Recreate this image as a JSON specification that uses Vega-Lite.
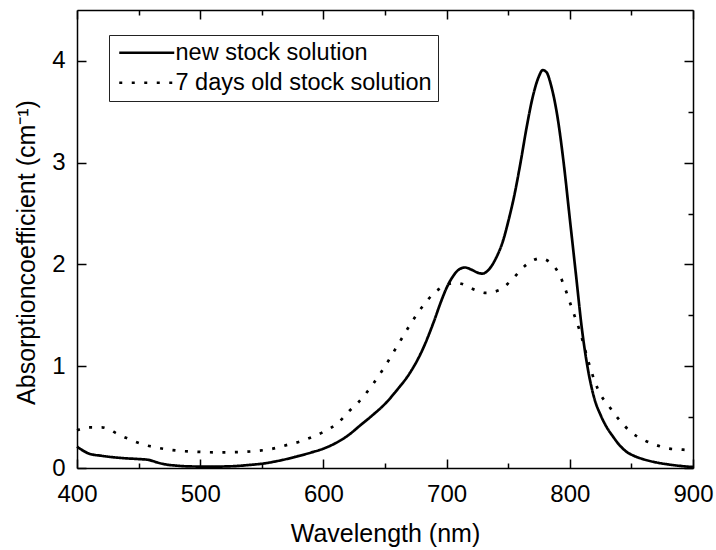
{
  "$schema": "https://vega.github.io/schema/vega-lite/v6.json",
  "autosize": "none",
  "width": 616,
  "height": 458,
  "padding": {"left": 77, "top": 10, "right": 23, "bottom": 82},
  "background": "white",
  "config": {
    "view": {"stroke": null},
    "font": "Liberation Sans",
    "axis": {"domainColor": "#000", "domainWidth": 1.5, "tickColor": "#000", "tickWidth": 1.5, "grid": false, "labelColor": "#000", "titleColor": "#000", "labelFont": "Liberation Sans", "titleFont": "Liberation Sans", "titleFontWeight": "normal"}
  },
  "datasets": {
    "spectra": [
      {"wavelength": 400, "absorption": 0.21, "series": "new stock solution"},
      {"wavelength": 405, "absorption": 0.17, "series": "new stock solution"},
      {"wavelength": 410, "absorption": 0.14, "series": "new stock solution"},
      {"wavelength": 420, "absorption": 0.12, "series": "new stock solution"},
      {"wavelength": 430, "absorption": 0.105, "series": "new stock solution"},
      {"wavelength": 440, "absorption": 0.095, "series": "new stock solution"},
      {"wavelength": 450, "absorption": 0.088, "series": "new stock solution"},
      {"wavelength": 458, "absorption": 0.08, "series": "new stock solution"},
      {"wavelength": 465, "absorption": 0.055, "series": "new stock solution"},
      {"wavelength": 472, "absorption": 0.035, "series": "new stock solution"},
      {"wavelength": 480, "absorption": 0.024, "series": "new stock solution"},
      {"wavelength": 490, "absorption": 0.016, "series": "new stock solution"},
      {"wavelength": 500, "absorption": 0.014, "series": "new stock solution"},
      {"wavelength": 510, "absorption": 0.013, "series": "new stock solution"},
      {"wavelength": 520, "absorption": 0.015, "series": "new stock solution"},
      {"wavelength": 530, "absorption": 0.02, "series": "new stock solution"},
      {"wavelength": 540, "absorption": 0.03, "series": "new stock solution"},
      {"wavelength": 550, "absorption": 0.042, "series": "new stock solution"},
      {"wavelength": 560, "absorption": 0.062, "series": "new stock solution"},
      {"wavelength": 570, "absorption": 0.088, "series": "new stock solution"},
      {"wavelength": 580, "absorption": 0.118, "series": "new stock solution"},
      {"wavelength": 590, "absorption": 0.152, "series": "new stock solution"},
      {"wavelength": 600, "absorption": 0.19, "series": "new stock solution"},
      {"wavelength": 610, "absorption": 0.245, "series": "new stock solution"},
      {"wavelength": 620, "absorption": 0.32, "series": "new stock solution"},
      {"wavelength": 630, "absorption": 0.42, "series": "new stock solution"},
      {"wavelength": 640, "absorption": 0.52, "series": "new stock solution"},
      {"wavelength": 650, "absorption": 0.63, "series": "new stock solution"},
      {"wavelength": 660, "absorption": 0.77, "series": "new stock solution"},
      {"wavelength": 670, "absorption": 0.93, "series": "new stock solution"},
      {"wavelength": 680, "absorption": 1.15, "series": "new stock solution"},
      {"wavelength": 690, "absorption": 1.45, "series": "new stock solution"},
      {"wavelength": 695, "absorption": 1.62, "series": "new stock solution"},
      {"wavelength": 700, "absorption": 1.77, "series": "new stock solution"},
      {"wavelength": 705, "absorption": 1.88, "series": "new stock solution"},
      {"wavelength": 710, "absorption": 1.95, "series": "new stock solution"},
      {"wavelength": 715, "absorption": 1.97, "series": "new stock solution"},
      {"wavelength": 720, "absorption": 1.95, "series": "new stock solution"},
      {"wavelength": 725, "absorption": 1.92, "series": "new stock solution"},
      {"wavelength": 729, "absorption": 1.91, "series": "new stock solution"},
      {"wavelength": 735, "absorption": 1.96, "series": "new stock solution"},
      {"wavelength": 740, "absorption": 2.06, "series": "new stock solution"},
      {"wavelength": 746, "absorption": 2.24, "series": "new stock solution"},
      {"wavelength": 750, "absorption": 2.42, "series": "new stock solution"},
      {"wavelength": 755, "absorption": 2.68, "series": "new stock solution"},
      {"wavelength": 760, "absorption": 3.0, "series": "new stock solution"},
      {"wavelength": 765, "absorption": 3.35, "series": "new stock solution"},
      {"wavelength": 770, "absorption": 3.65, "series": "new stock solution"},
      {"wavelength": 775, "absorption": 3.85, "series": "new stock solution"},
      {"wavelength": 778, "absorption": 3.91, "series": "new stock solution"},
      {"wavelength": 781, "absorption": 3.89, "series": "new stock solution"},
      {"wavelength": 785, "absorption": 3.75, "series": "new stock solution"},
      {"wavelength": 790, "absorption": 3.45, "series": "new stock solution"},
      {"wavelength": 795, "absorption": 3.0, "series": "new stock solution"},
      {"wavelength": 800, "absorption": 2.45, "series": "new stock solution"},
      {"wavelength": 805, "absorption": 1.9, "series": "new stock solution"},
      {"wavelength": 810, "absorption": 1.35, "series": "new stock solution"},
      {"wavelength": 815, "absorption": 0.95, "series": "new stock solution"},
      {"wavelength": 820, "absorption": 0.68, "series": "new stock solution"},
      {"wavelength": 825, "absorption": 0.52, "series": "new stock solution"},
      {"wavelength": 830, "absorption": 0.4, "series": "new stock solution"},
      {"wavelength": 835, "absorption": 0.31, "series": "new stock solution"},
      {"wavelength": 840, "absorption": 0.23, "series": "new stock solution"},
      {"wavelength": 846, "absorption": 0.16, "series": "new stock solution"},
      {"wavelength": 852, "absorption": 0.12, "series": "new stock solution"},
      {"wavelength": 860, "absorption": 0.085, "series": "new stock solution"},
      {"wavelength": 870, "absorption": 0.055, "series": "new stock solution"},
      {"wavelength": 880, "absorption": 0.035, "series": "new stock solution"},
      {"wavelength": 890, "absorption": 0.02, "series": "new stock solution"},
      {"wavelength": 900, "absorption": 0.01, "series": "new stock solution"},
      {"wavelength": 400, "absorption": 0.37, "series": "7 days old stock solution"},
      {"wavelength": 405, "absorption": 0.39, "series": "7 days old stock solution"},
      {"wavelength": 410, "absorption": 0.4, "series": "7 days old stock solution"},
      {"wavelength": 420, "absorption": 0.4, "series": "7 days old stock solution"},
      {"wavelength": 426, "absorption": 0.38, "series": "7 days old stock solution"},
      {"wavelength": 432, "absorption": 0.34, "series": "7 days old stock solution"},
      {"wavelength": 443, "absorption": 0.28, "series": "7 days old stock solution"},
      {"wavelength": 454, "absorption": 0.23, "series": "7 days old stock solution"},
      {"wavelength": 465, "absorption": 0.2, "series": "7 days old stock solution"},
      {"wavelength": 475, "absorption": 0.18, "series": "7 days old stock solution"},
      {"wavelength": 485, "absorption": 0.167, "series": "7 days old stock solution"},
      {"wavelength": 496, "absorption": 0.16, "series": "7 days old stock solution"},
      {"wavelength": 506, "absorption": 0.155, "series": "7 days old stock solution"},
      {"wavelength": 516, "absorption": 0.154, "series": "7 days old stock solution"},
      {"wavelength": 527, "absorption": 0.155, "series": "7 days old stock solution"},
      {"wavelength": 538, "absorption": 0.16, "series": "7 days old stock solution"},
      {"wavelength": 548, "absorption": 0.17, "series": "7 days old stock solution"},
      {"wavelength": 559, "absorption": 0.19, "series": "7 days old stock solution"},
      {"wavelength": 570, "absorption": 0.225, "series": "7 days old stock solution"},
      {"wavelength": 581, "absorption": 0.26, "series": "7 days old stock solution"},
      {"wavelength": 590, "absorption": 0.3, "series": "7 days old stock solution"},
      {"wavelength": 600, "absorption": 0.355, "series": "7 days old stock solution"},
      {"wavelength": 612, "absorption": 0.445, "series": "7 days old stock solution"},
      {"wavelength": 621, "absorption": 0.56, "series": "7 days old stock solution"},
      {"wavelength": 628, "absorption": 0.64, "series": "7 days old stock solution"},
      {"wavelength": 640, "absorption": 0.82, "series": "7 days old stock solution"},
      {"wavelength": 650, "absorption": 1.0, "series": "7 days old stock solution"},
      {"wavelength": 660, "absorption": 1.2, "series": "7 days old stock solution"},
      {"wavelength": 670, "absorption": 1.4, "series": "7 days old stock solution"},
      {"wavelength": 680, "absorption": 1.58, "series": "7 days old stock solution"},
      {"wavelength": 690, "absorption": 1.72, "series": "7 days old stock solution"},
      {"wavelength": 700, "absorption": 1.8, "series": "7 days old stock solution"},
      {"wavelength": 707, "absorption": 1.82, "series": "7 days old stock solution"},
      {"wavelength": 712, "absorption": 1.81, "series": "7 days old stock solution"},
      {"wavelength": 722, "absorption": 1.755, "series": "7 days old stock solution"},
      {"wavelength": 732, "absorption": 1.72, "series": "7 days old stock solution"},
      {"wavelength": 743, "absorption": 1.75, "series": "7 days old stock solution"},
      {"wavelength": 753, "absorption": 1.85, "series": "7 days old stock solution"},
      {"wavelength": 763, "absorption": 1.98, "series": "7 days old stock solution"},
      {"wavelength": 770, "absorption": 2.04, "series": "7 days old stock solution"},
      {"wavelength": 776, "absorption": 2.06, "series": "7 days old stock solution"},
      {"wavelength": 784, "absorption": 2.02, "series": "7 days old stock solution"},
      {"wavelength": 792, "absorption": 1.89, "series": "7 days old stock solution"},
      {"wavelength": 796, "absorption": 1.77, "series": "7 days old stock solution"},
      {"wavelength": 800, "absorption": 1.63, "series": "7 days old stock solution"},
      {"wavelength": 804, "absorption": 1.49, "series": "7 days old stock solution"},
      {"wavelength": 808, "absorption": 1.35, "series": "7 days old stock solution"},
      {"wavelength": 815, "absorption": 1.05, "series": "7 days old stock solution"},
      {"wavelength": 820, "absorption": 0.86, "series": "7 days old stock solution"},
      {"wavelength": 825, "absorption": 0.72, "series": "7 days old stock solution"},
      {"wavelength": 831, "absorption": 0.62, "series": "7 days old stock solution"},
      {"wavelength": 839, "absorption": 0.49, "series": "7 days old stock solution"},
      {"wavelength": 849, "absorption": 0.36, "series": "7 days old stock solution"},
      {"wavelength": 860, "absorption": 0.275, "series": "7 days old stock solution"},
      {"wavelength": 870, "absorption": 0.226, "series": "7 days old stock solution"},
      {"wavelength": 881, "absorption": 0.19, "series": "7 days old stock solution"},
      {"wavelength": 892, "absorption": 0.18, "series": "7 days old stock solution"},
      {"wavelength": 900, "absorption": 0.17, "series": "7 days old stock solution"}
    ]
  },
  "data": {"name": "spectra"},
  "layer": [
    {
      "mark": {"type": "line", "color": "#000", "strokeWidth": 2.7, "interpolate": "monotone", "strokeCap": "butt"},
      "encoding": {
        "x": {
          "field": "wavelength", "type": "quantitative",
          "scale": {"domain": [400, 900], "nice": false, "zero": false},
          "axis": {
            "orient": "bottom",
            "values": [400, 450, 500, 550, 600, 650, 700, 750, 800, 850, 900],
            "labelExpr": "datum.value % 100 === 0 ? datum.label : ''",
            "format": "d",
            "tickSize": {"condition": {"test": "datum.value % 100 === 0", "value": -9}, "value": -5},
            "labelPadding": 23,
            "labelFontSize": 24,
            "labelFlush": false,
            "labelOverlap": false,
            "title": "Wavelength (nm)",
            "titleFontSize": 25,
            "titlePadding": 11
          }
        },
        "y": {
          "field": "absorption", "type": "quantitative",
          "scale": {"domain": [0, 4.5], "nice": false},
          "axis": {
            "orient": "left",
            "values": [0, 0.5, 1, 1.5, 2, 2.5, 3, 3.5, 4],
            "labelExpr": "datum.value % 1 === 0 ? datum.label : ''",
            "format": "d",
            "tickSize": {"condition": {"test": "datum.value % 1 === 0", "value": -9}, "value": -5},
            "labelPadding": 21,
            "labelFontSize": 24,
            "labelFlush": false,
            "labelOverlap": false,
            "title": "Absorptioncoefficient (cm⁻¹)",
            "titleFontSize": 25,
            "titlePadding": 12,
            "titleY": 242
          }
        },
        "strokeDash": {
          "field": "series", "type": "nominal",
          "scale": {"domain": ["new stock solution", "7 days old stock solution"], "range": [[1, 0], [3, 9.5]]},
          "legend": {
            "title": null,
            "orient": "none",
            "legendX": 32,
            "legendY": 25,
            "strokeColor": "#222",
            "fillColor": "white",
            "padding": 6,
            "labelFontSize": 23.5,
            "labelFont": "Liberation Sans",
            "labelColor": "#000",
            "labelLimit": 500,
            "symbolType": "M-5,0H5",
            "symbolSize": 121,
            "symbolOffset": 20,
            "symbolStrokeColor": "#000",
            "symbolStrokeWidth": 2.7,
            "labelOffset": 17,
            "rowPadding": 5
          }
        }
      }
    },
    {
      "mark": {"type": "line", "color": "#000", "strokeOpacity": 0, "interpolate": "monotone"},
      "encoding": {
        "x": {
          "field": "wavelength", "type": "quantitative",
          "axis": {
            "orient": "top",
            "values": [400, 450, 500, 550, 600, 650, 700, 750, 800, 850, 900],
            "labels": false,
            "title": null,
            "tickSize": {"condition": {"test": "datum.value % 100 === 0", "value": -9}, "value": -5}
          }
        },
        "y": {
          "field": "absorption", "type": "quantitative",
          "axis": {
            "orient": "right",
            "values": [0, 0.5, 1, 1.5, 2, 2.5, 3, 3.5, 4],
            "labels": false,
            "title": null,
            "tickSize": {"condition": {"test": "datum.value % 1 === 0", "value": -9}, "value": -5}
          }
        },
        "detail": {"field": "series", "type": "nominal"}
      }
    }
  ],
  "resolve": {"axis": {"x": "independent", "y": "independent"}}
}
